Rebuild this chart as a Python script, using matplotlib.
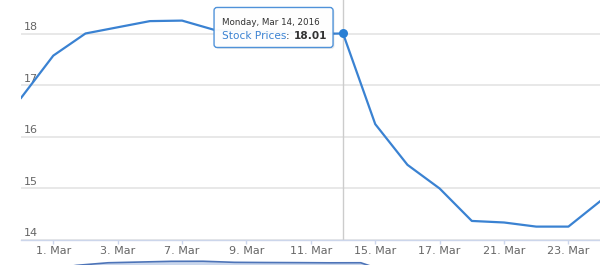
import matplotlib
matplotlib.use("Agg")
import matplotlib.pyplot as plt
from matplotlib.patches import FancyBboxPatch
from matplotlib.transforms import blended_transform_factory, ScaledTranslation

# trading days, Feb 29 .. Mar 24 2016 (weekends skipped, ordinal axis)
dates = ["Feb 29", "Mar 1", "Mar 2", "Mar 3", "Mar 4", "Mar 7", "Mar 8",
         "Mar 9", "Mar 10", "Mar 11", "Mar 14", "Mar 15", "Mar 16",
         "Mar 17", "Mar 18", "Mar 21", "Mar 22", "Mar 23", "Mar 24"]
prices = [16.76, 17.58, 18.01, 18.13, 18.25, 18.26, 18.08, 18.05, 18.03,
          18.00, 18.01, 16.25, 15.46, 15.00, 14.37, 14.34, 14.26, 14.26, 14.76]
tick_days = ["Mar 1", "Mar 3", "Mar 7", "Mar 9", "Mar 11", "Mar 15",
             "Mar 17", "Mar 21", "Mar 23"]
tick_labels = ["1. Mar", "3. Mar", "7. Mar", "9. Mar", "11. Mar", "15. Mar",
               "17. Mar", "21. Mar", "23. Mar"]
y_ticks = [14, 15, 16, 17, 18]
hover_day = "Mar 14"
hover_title = "Monday, Mar 14, 2016"
series_name = "Stock Prices"

LINE = "#3a82d2"
GRID = "#e6e6e6"
LABEL = "#666666"

x = list(range(len(dates)))

W, H = 600, 265
fig = plt.figure(figsize=(W / 100, H / 100), dpi=100)
fig.patch.set_facecolor("white")

# main plot area: left edge at px 21, x-axis at px 240
ax = fig.add_axes([21.1 / W, 25 / H, 579.5 / W, 240 / H])
ax.set_xlim(0, 18)
ax.set_ylim(14, 18.66)
for s in ["top", "right", "left"]:
    ax.spines[s].set_visible(False)
ax.spines["bottom"].set_color("#ccd6eb")
ax.spines["bottom"].set_linewidth(1)

ax.set_yticks(y_ticks)
ax.yaxis.grid(True, color=GRID, linewidth=1.3)
ax.tick_params(axis="y", length=0, labelleft=False)
lab_tr = blended_transform_factory(ax.transAxes, ax.transData) + \
    ScaledTranslation(0, 1.5 / 100, fig.dpi_scale_trans)
for v in y_ticks:
    ax.text(0.005, v, str(v), transform=lab_tr, ha="left", va="bottom",
            fontsize=8, color=LABEL)

ax.set_xticks([dates.index(d) for d in tick_days])
ax.set_xticklabels(tick_labels)
ax.tick_params(axis="x", length=3, width=1, color="#ccd6eb", pad=1,
               labelsize=8, labelcolor=LABEL)
ax.set_axisbelow(True)

hi = dates.index(hover_day)
ax.axvline(hi, color="#cccccc", linewidth=1, zorder=1)
ax.plot(x, prices, color=LINE, linewidth=1.6, zorder=3, clip_on=True)
ax.plot([hi], [prices[hi]], "o", color="#2a7fd4", markersize=6.5,
        markeredgewidth=0, zorder=4)

# tooltip (offsets in pixels from the hovered point)
px, py = ax.transData.transform((hi, prices[hi]))
bx0, by0, bw, bh = px - 129, py - 14, 119, 40
box = FancyBboxPatch((bx0 + 1.5, by0 - 1.5), bw, bh,
                     boxstyle="round,pad=0,rounding_size=3",
                     transform=None, facecolor="#000000", alpha=0.08,
                     edgecolor="none", zorder=5)
fig.patches.append(box)
box = FancyBboxPatch((bx0, by0), bw, bh,
                     boxstyle="round,pad=0,rounding_size=3",
                     transform=None, facecolor="white", alpha=0.97,
                     edgecolor="#4a8fd8", linewidth=1, zorder=6)
fig.patches.append(box)
fig.text((bx0 + 8) / W, (by0 + 25) / H, hover_title, fontsize=6.3,
         color="#333333", va="center", ha="left", zorder=7)
t1 = fig.text((bx0 + 8) / W, (by0 + 11) / H, series_name, fontsize=7.6,
              color="#3a82d2", va="center", ha="left", zorder=7)
fig.canvas.draw()
e = t1.get_window_extent()
t2 = fig.text(e.x1 / W, (by0 + 11) / H, ": ", fontsize=7.6,
              color="#333333", va="center", ha="left", zorder=7)
e2 = t2.get_window_extent()
fig.text(e2.x1 / W, (by0 + 11) / H, f"{prices[hi]:.2f}", fontsize=7.6,
         color="#333333", fontweight="bold", va="center", ha="left", zorder=7)

# navigator, only its top edge shows at the bottom of the picture
nav = fig.add_axes([45 / W, -31 / H, 600 / W, 38 / H])
nav.set_xlim(0, 19)
nav.set_ylim(12.5, 18.8)
nav.axis("off")
nav.fill_between(x, prices, 12.5, color="#c9d6ec", linewidth=0)
nav.plot(x, prices, color="#4d74b8", linewidth=1.2)

fig.savefig("out.png", dpi=100, facecolor="white")
